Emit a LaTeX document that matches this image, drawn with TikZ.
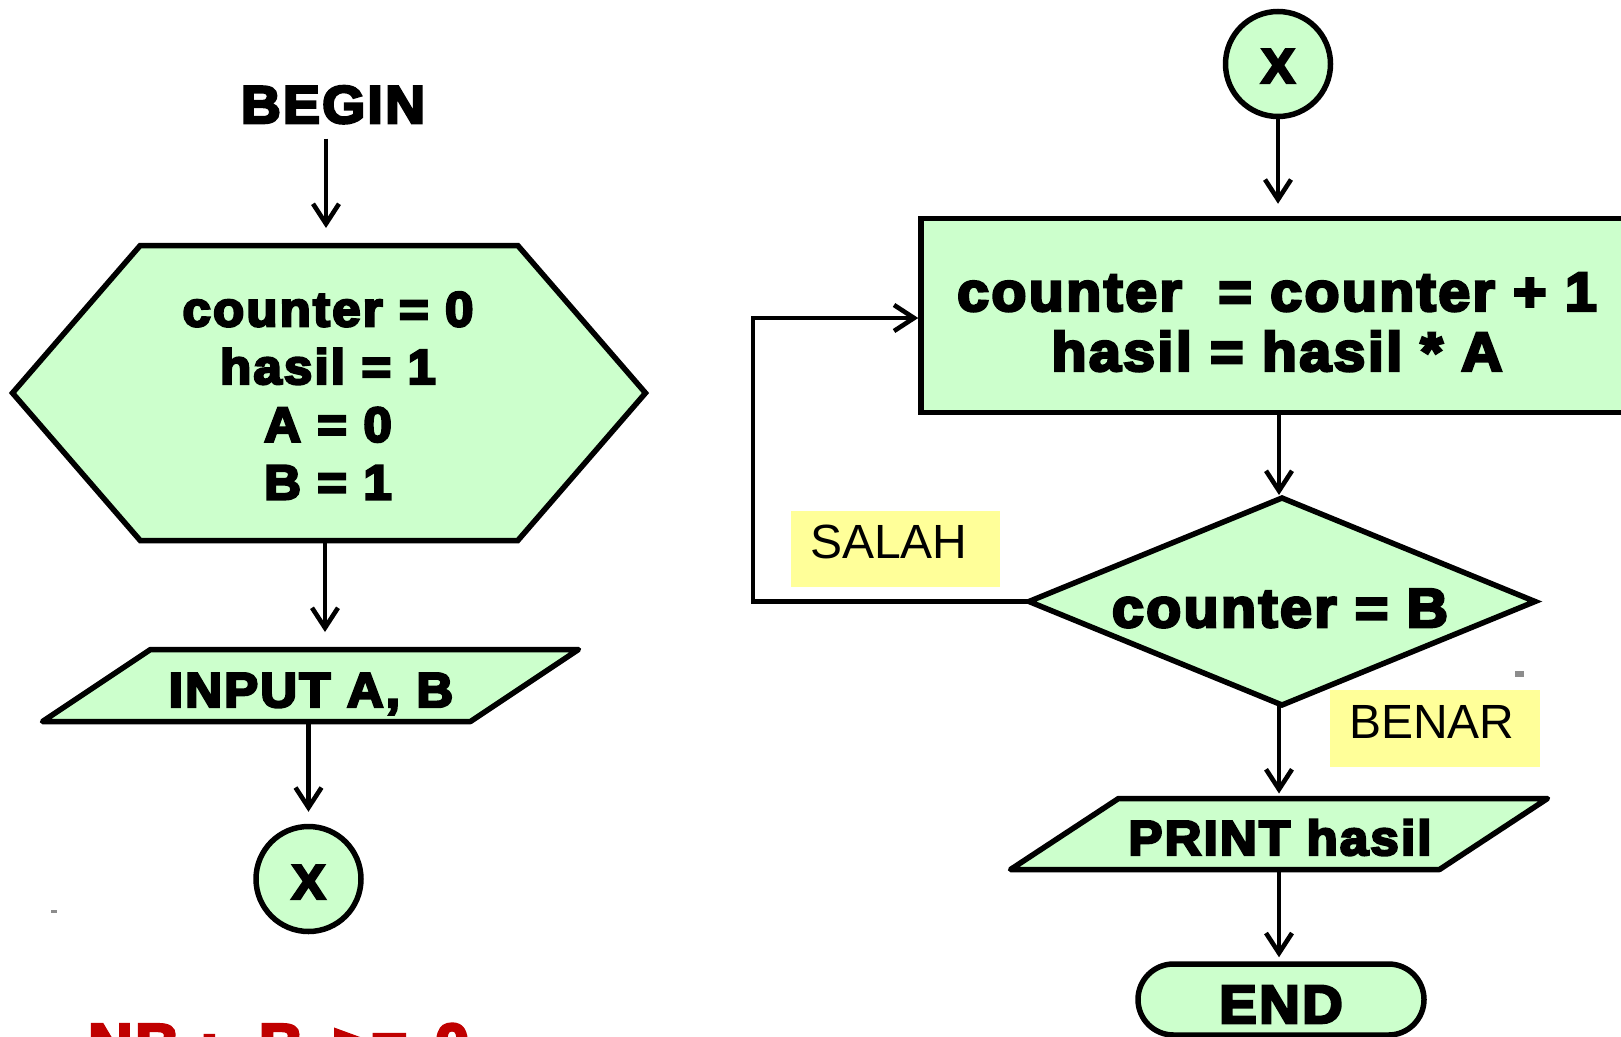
\documentclass[tikz,border=0pt]{standalone}
\usepackage{fontspec}
\setmainfont{Liberation Sans}
\newfontfamily\blk{Liberation Sans}[BoldFeatures={FakeBold=5,FakeStretch=1.04,LetterSpace=4.5}]
\usetikzlibrary{arrows.meta,shapes.misc,calc}
\pgfdeclarelayer{bg}
\pgfsetlayers{bg,main}
\definecolor{shgreen}{HTML}{CCFFCC}
\definecolor{lblyellow}{HTML}{FFFF99}
\definecolor{nbred}{HTML}{C00000}
\definecolor{specgray}{HTML}{8C8C8C}
\tikzset{
  shp/.style={draw=black, fill=shgreen, line width=5.5pt},
  frame/.style={inner sep=0pt, outer sep=0pt, draw=none},
  bt/.style={inner sep=0pt, outer sep=0pt, font=\blk\bfseries\fontsize{49}{57.7}\selectfont},
  btbig/.style={inner sep=0pt, outer sep=0pt, font=\blk\bfseries\fontsize{55}{60}\selectfont},
  conn/.style={line width=4.6pt, -{Straight Barb[length=20pt,width=26pt]}},
  lbl/.style={fill=lblyellow, inner ysep=0pt, inner xsep=19pt, align=left,
              font=\fontsize{48}{55}\selectfont, text height=35pt, text depth=17pt},
}
\begin{document}
\begin{tikzpicture}[x=1pt,y=-1pt]
\useasboundingbox (0,0) rectangle (1621,1036);
\clip (0,0) rectangle (1621,1036);

% ---------- left column ----------
\node[bt, anchor=base, font=\blk\bfseries\fontsize{53}{60}\selectfont] (begin) at (333,123) {BEGIN};

\node[frame, minimum width=633pt, minimum height=295pt] (hex) at (329,393) {};
\node[bt, align=center, anchor=north] (hextxt) at (328,292) {counter = 0\\hasil = 1\\A = 0\\B = 1};

\node[frame, minimum width=536pt, minimum height=72pt] (inp) at (310.5,685.5) {};
\node[bt, anchor=base] (inptxt) at (311,707) {INPUT A, B};

\node[shp, circle, minimum size=105pt, inner sep=0pt, text height=40pt, text depth=0pt,
      font=\blk\bfseries\fontsize{49}{55}\selectfont] (cx) at (308.5,879) {X};

% ---------- right column ----------
\node[shp, circle, minimum size=105pt, inner sep=0pt, text height=38pt, text depth=0pt,
      font=\blk\bfseries\fontsize{49}{55}\selectfont] (cxr) at (1278,64) {X};

\node[shp, rectangle, minimum width=714pt, minimum height=194pt, inner sep=0pt] (box) at (1278,315.5) {};
\node[btbig, align=center, anchor=north] (boxtxt) at (1277,273) {counter\ \ = counter + 1\\hasil = hasil * A};

\node[frame, minimum width=506pt, minimum height=207pt] (dia) at (1282,601.5) {};
\node[btbig, anchor=base] (diatxt) at (1280,627) {counter = B};

\node[lbl, text width=171pt, minimum height=76pt] (salah) at (895.5,549) {SALAH};
\node[lbl, text width=172pt, minimum height=77pt, text depth=16pt] (benar) at (1435,728.5) {BENAR};

\node[frame, minimum width=537pt, minimum height=71pt] (prt) at (1279,834) {};
\node[bt, anchor=base] (prttxt) at (1280,855) {PRINT hasil};

\node[shp, rounded rectangle, minimum width=286pt, minimum height=71pt, inner sep=0pt,
      text height=47pt, text depth=0pt, font=\blk\bfseries\fontsize{54}{60}\selectfont] (endn) at (1281,999.5) {END};

\node[anchor=base west, inner sep=0pt, text=nbred, font=\blk\bfseries\fontsize{59}{60}\selectfont] (nb) at (88,1065) {NB :\ \ B\hspace{10pt} >=\hspace{8pt} 0};

% ---------- shapes drawn behind text ----------
\begin{pgfonlayer}{bg}
  \fill[white] (0,0) rectangle (1621,1036);
  \draw[shp] (hex.west) -- ($(hex.north west)+(127.7,0)$) -- ($(hex.north east)+(-127.7,0)$)
     -- (hex.east) -- ($(hex.south east)+(-127.7,0)$) -- ($(hex.south west)+(127.7,0)$) -- cycle;
  \draw[shp, line join=round] (inp.south west) -- ($(inp.north west)+(108,0)$) -- (inp.north east)
     -- ($(inp.south east)+(-108,0)$) -- cycle;
  \draw[shp] (dia.north) -- (dia.east) -- (dia.south) -- (dia.west) -- cycle;
  \draw[shp, line join=round] (prt.south west) -- ($(prt.north west)+(108,0)$) -- (prt.north east)
     -- ($(prt.south east)+(-108,0)$) -- cycle;
\end{pgfonlayer}

% ---------- connectors ----------
\draw[conn, shorten <=15pt, shorten >=17.5pt] ([xshift=-7pt]begin.south) -- ([xshift=-7pt]begin.south |- hex.north);
\draw[conn, shorten >=17.5pt] ([xshift=-4pt]hex.south) -- ([xshift=-4pt]hex.south |- inp.north);
\draw[conn, shorten >=12pt] (inp.south -| cx.north) -- (cx.north);

\draw[conn, shorten >=12pt] (cxr.south) -- (box.north);
\draw[conn, shorten >=3pt] (box.south -| dia.north) ++(-3,0) coordinate (bs) -- (bs |- dia.north);
\draw[conn] (dia.west) -- ++(-276,0) |- ([yshift=-2.5pt]box.west);
\draw[conn, shorten >=5pt] (dia.south -| bs) -- (bs |- prt.north);
\draw[conn, shorten >=4pt] (prt.south -| bs) -- (bs |- endn.north);

% ---------- stray marks ----------
\fill[specgray] (51,910) rectangle (57,913);
\fill[specgray] (1515,671) rectangle (1524,677);
\end{tikzpicture}
\end{document}
